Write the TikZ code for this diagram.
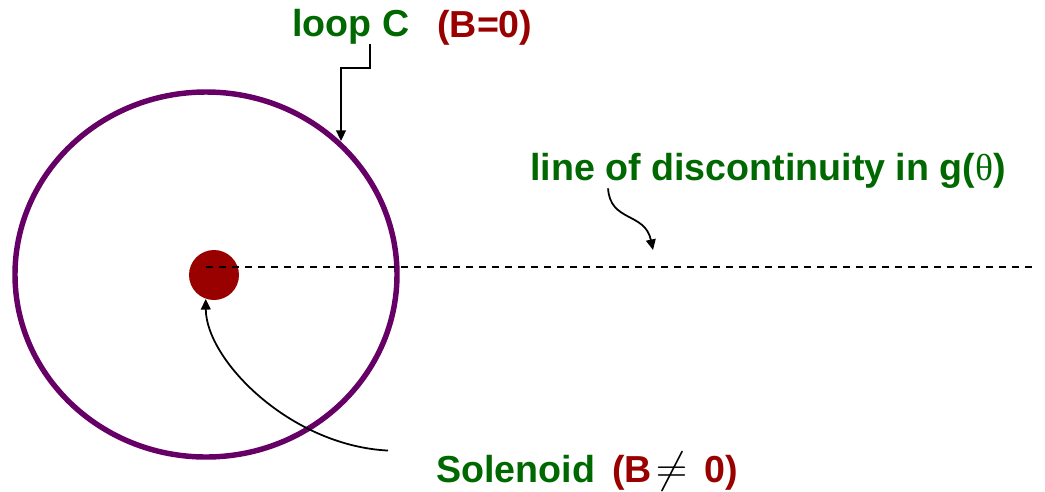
\documentclass[tikz,border=0pt]{standalone}
\usepackage{fontspec}
\setmainfont{Liberation Sans}
\newfontfamily\thetafont{Liberation Serif}
\usetikzlibrary{arrows.meta}
\definecolor{lblgreen}{RGB}{0,104,0}
\definecolor{fieldred}{RGB}{153,0,0}
\definecolor{loopviolet}{RGB}{102,0,102}
\def\xSol{214}
\def\ySol{275}
\def\yCut{267}
\tikzset{
  lbl/.style={font=\fontsize{21.4}{24}\selectfont\bfseries, text=lblgreen, inner sep=0pt, anchor=base west},
  bval/.style={lbl, text=fieldred},
  ptr/.style={-{Triangle[length=6pt, width=5.5pt]}, line width=1pt},
  cutline/.style={dash pattern=on 4pt off 3.4pt, line width=1.2pt},
}

\begin{document}
\begin{tikzpicture}[x=0.02cm, y=-0.02cm]
  \useasboundingbox (0,0) rectangle (1045,491);
  % loop C and the solenoid
  \draw[loopviolet, line width=3.1pt] (206,274.5) ellipse [x radius=191, y radius=182.5];
  \node[circle, fill=fieldred, inner sep=0pt, minimum size=1cm] (sol) at (\xSol,\ySol) {};
  \draw[cutline] (206,\yCut) -- (1037,\yCut);

  % labels
  \node[lbl] (loopC) at (292,36) {loop C};
  \node[bval] (loopB) at (437,37) {(B=0)};
  \node[lbl] (cut) at (530,180) {line of discontinuity in g({\thetafont\mdseries θ})};
  \node[lbl] (solname) at (436,482) {Solenoid};
  \node[bval] (solB) at (612,482) {(B\hspace{0.1em}{\color{black}\fontsize{29}{30}\selectfont$\neq$}\hspace{0.45em}0)};

  % pointers
  \coordinate (loopHit) at (341,141);
  \coordinate (cutHit) at (653,250);
  \draw[ptr] ([shift={(19,0)}]loopC.south) -- ++(0,24) -| (loopHit);
  \draw[ptr] ([shift={(-160,0)}]cut.south) .. controls ++(2,34) and (645,212) .. (cutHit);
  \draw[ptr] ([shift={(-48,-18)}]solname.west) .. controls ++(-98,-5) and (206,360) .. (sol.251);
\end{tikzpicture}
\end{document}
